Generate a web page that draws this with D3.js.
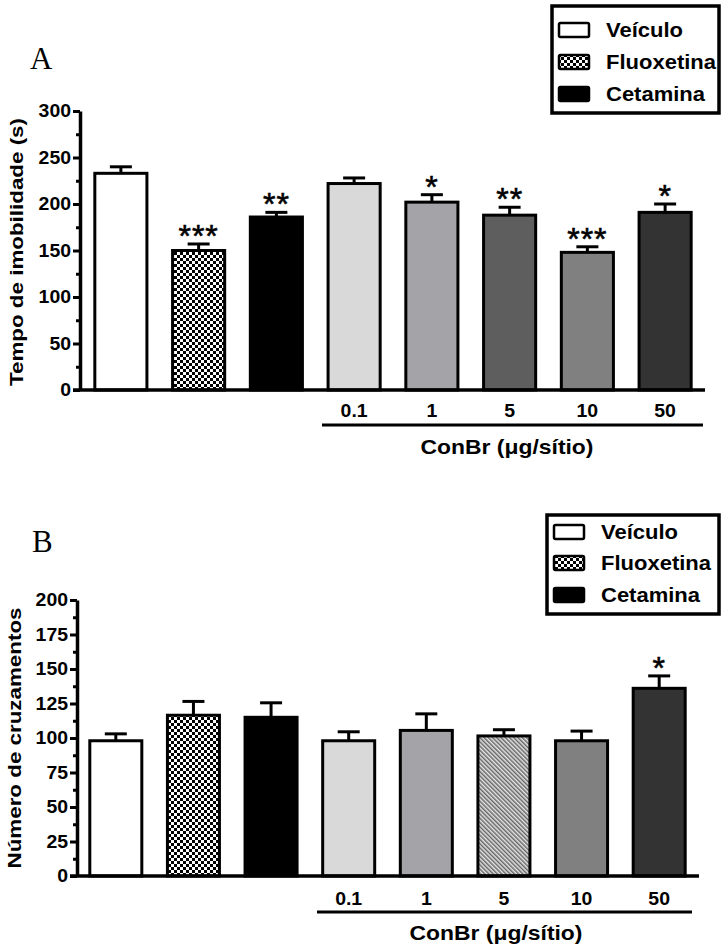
<!DOCTYPE html>
<html>
<head>
<meta charset="utf-8">
<script src="https://cdn.jsdelivr.net/npm/d3@7"></script>
<style>
  body { margin: 0; background: #fff; }
  text { font-family: "Liberation Sans", Arial, sans-serif; font-weight: bold; fill: #000; }
</style>
</head>
<body>
<div id="chart"></div>
<script>
// groups on the x axis (first three are controls, rest are ConBr doses)
const groups = ["Veículo", "Fluoxetina", "Cetamina", "0.1", "1", "5", "10", "50"];
const doseLabels = ["", "", "", "0.1", "1", "5", "10", "50"];
const legendItems = ["Veículo", "Fluoxetina", "Cetamina"];

// panel A - tempo de imobilidade
const immobilityMean = [233, 150, 186, 222, 202, 188, 148, 191];
const immobilityErr = [7, 7, 5, 6, 8, 8.5, 6, 9];
const immobilitySig = ["", "***", "**", "", "*", "**", "***", "*"];
const immobilityTicks = [0, 50, 100, 150, 200, 250, 300];

// panel B - numero de cruzamentos
const crossingMean = [98, 116.5, 115, 98, 105.5, 101.5, 98, 136];
const crossingErr = [5, 10, 10.5, 6.5, 12, 4.5, 7, 9];
const crossingSig = ["", "", "", "", "", "", "", "*"];
const crossingTicks = [0, 25, 50, 75, 100, 125, 150, 175, 200];

const svg = d3.select("#chart")
    .append("svg")
    .attr("width", 722)
    .attr("height", 946);

// patterns
const defs = svg.append("defs");
const checker = defs.append("pattern")
    .attr("id", "checker")
    .attr("patternUnits", "userSpaceOnUse")
    .attr("width", 6).attr("height", 6);
checker.append("rect").attr("width", 6).attr("height", 6).attr("fill", "#fff");
checker.append("rect").attr("width", 3).attr("height", 3).attr("fill", "#000");
checker.append("rect").attr("x", 3).attr("y", 3).attr("width", 3).attr("height", 3).attr("fill", "#000");

const hatch = defs.append("pattern")
    .attr("id", "hatch")
    .attr("patternUnits", "userSpaceOnUse")
    .attr("width", 3).attr("height", 3)
    .attr("patternTransform", "rotate(-45)");
hatch.append("rect").attr("width", 3).attr("height", 3).attr("fill", "#e6e6e6");
hatch.append("line").attr("x1", 0.75).attr("y1", 0).attr("x2", 0.75).attr("y2", 3)
    .attr("stroke", "#666").attr("stroke-width", 1.5);

const fillsA = ["#ffffff", "url(#checker)", "#000000", "#d9d9d9", "#a3a3a8", "#5e5e5e", "#808080", "#333333"];
const fillsB = ["#ffffff", "url(#checker)", "#000000", "#d9d9d9", "#a3a3a8", "url(#hatch)", "#808080", "#333333"];

// horizontally stretch text like the original export
function stretch(sel, k) {
    sel.each(function() {
        const w = this.getComputedTextLength();
        d3.select(this).attr("textLength", w * k).attr("lengthAdjust", "spacingAndGlyphs");
    });
}

function drawPanel(p) {
    const g = svg.append("g");
    const x = d3.scaleBand().domain(groups).range(p.xRange).paddingInner(0.33).paddingOuter(0.165);
    const y = d3.scaleLinear().domain([0, p.yMax]).range([p.y0, p.y1]);
    const color = d3.scaleOrdinal().domain(groups).range(p.fills);
    const rows = groups.map((k, i) => ({key: k, mean: p.mean[i], err: p.err[i], sig: p.sig[i], dose: doseLabels[i]}));

    // panel letter
    g.append("text")
        .attr("x", p.letterX).attr("y", p.letterY)
        .style("font-family", "'Liberation Serif', 'Times New Roman', serif")
        .style("font-weight", "normal")
        .style("font-size", "31px")
        .text(p.letter);

    // error bars (upper only)
    rows.forEach(d => {
        const cx = x(d.key) + x.bandwidth() / 2;
        g.append("line")
            .attr("x1", cx).attr("x2", cx)
            .attr("y1", y(d.mean)).attr("y2", y(d.mean + d.err))
            .attr("stroke", "#000").attr("stroke-width", 3);
        g.append("line")
            .attr("x1", cx - 11).attr("x2", cx + 11)
            .attr("y1", y(d.mean + d.err)).attr("y2", y(d.mean + d.err))
            .attr("stroke", "#000").attr("stroke-width", 3);
        if (d.sig) {
            g.append("text")
                .attr("x", cx).attr("y", y(d.mean + d.err) + 3)
                .attr("text-anchor", "middle")
                .style("font-size", "32px")
                .style("font-weight", "normal")
                .style("letter-spacing", "1px")
                .attr("stroke", "#000").attr("stroke-width", 0.6)
                .text(d.sig);
        }
    });

    // bars
    g.selectAll(".bar")
        .data(rows)
        .enter()
        .append("rect")
        .attr("x", d => x(d.key))
        .attr("y", d => y(d.mean))
        .attr("width", x.bandwidth())
        .attr("height", d => y(0) - y(d.mean))
        .attr("fill", d => color(d.key))
        .attr("stroke", "#000")
        .attr("stroke-width", 3);

    // y axis: major + minor ticks
    const minor = d3.range(p.minorStep, p.yMax, p.minorStep * 2);
    g.append("g")
        .attr("transform", `translate(${p.axisX},0)`)
        .call(d3.axisLeft(y).tickValues(minor).tickSize(4).tickFormat(""))
        .call(a => a.select(".domain").remove())
        .call(a => a.selectAll("line").attr("stroke-width", 3));
    const yAxis = g.append("g")
        .attr("transform", `translate(${p.axisX},0)`)
        .call(d3.axisLeft(y).tickValues(p.ticks).tickSize(7).tickSizeOuter(0).tickPadding(2));
    yAxis.select(".domain").attr("stroke-width", 3.5);
    yAxis.selectAll(".tick line").attr("stroke-width", 3);
    yAxis.selectAll(".tick text")
        .style("font-family", "'Liberation Sans', Arial, sans-serif")
        .style("font-weight", "bold")
        .style("font-size", "18px")
        .attr("fill", "#000")
        .call(stretch, 1.08);

    // x axis baseline
    g.append("line")
        .attr("x1", p.axisX - 7).attr("x2", p.xRange[1] + 1)
        .attr("y1", y(0)).attr("y2", y(0))
        .attr("stroke", "#000").attr("stroke-width", 3.5);

    // dose labels
    g.selectAll(".dose")
        .data(rows.filter(d => d.dose))
        .enter()
        .append("text")
        .attr("x", d => x(d.key) + x.bandwidth() / 2)
        .attr("y", p.doseY)
        .attr("text-anchor", "middle")
        .style("font-size", "18px")
        .text(d => d.dose)
        .call(stretch, 1.08);

    g.append("line")
        .attr("x1", p.underline[0]).attr("x2", p.underline[1])
        .attr("y1", p.underlineY).attr("y2", p.underlineY)
        .attr("stroke", "#000").attr("stroke-width", 3);

    g.append("text")
        .attr("x", p.conbrX).attr("y", p.conbrY)
        .attr("text-anchor", "middle")
        .style("font-size", "21px")
        .attr("textLength", 173).attr("lengthAdjust", "spacingAndGlyphs")
        .text("ConBr (μg/sítio)");

    // y label
    g.append("text")
        .attr("transform", `translate(${p.yLabelX},${p.yLabelY}) rotate(-90)`)
        .attr("text-anchor", "middle")
        .style("font-size", "19px")
        .attr("textLength", p.yLabelLen).attr("lengthAdjust", "spacingAndGlyphs")
        .text(p.yLabel);

    // legend
    const L = p.legend;
    g.append("rect")
        .attr("x", L.x).attr("y", L.y).attr("width", L.w).attr("height", L.h)
        .attr("fill", "#fff").attr("stroke", "#000").attr("stroke-width", 3.5);
    legendItems.forEach((name, i) => {
        const cy = L.rows[i];
        g.append("rect")
            .attr("x", L.x + 7).attr("y", cy - 7)
            .attr("width", 30).attr("height", 14)
            .attr("rx", 1.5)
            .attr("fill", color(name))
            .attr("stroke", "#000").attr("stroke-width", 2.5);
        g.append("text")
            .attr("x", L.x + 54).attr("y", cy + 7)
            .style("font-size", "20px")
            .text(name)
            .call(stretch, 1.1);
    });
}

drawPanel({
    letter: "A", letterX: 30, letterY: 69,
    mean: immobilityMean, err: immobilityErr, sig: immobilitySig,
    ticks: immobilityTicks, yMax: 300, minorStep: 25,
    y0: 390, y1: 111, axisX: 80, xRange: [82, 704],
    fills: fillsA,
    doseY: 417, underline: [322, 703], underlineY: 425,
    conbrX: 507, conbrY: 454,
    yLabel: "Tempo de imobilidade (s)", yLabelX: 23, yLabelY: 252, yLabelLen: 268,
    legend: {x: 552, y: 6, w: 167, h: 107, rows: [30, 62, 94]}
});

drawPanel({
    letter: "B", letterX: 32, letterY: 552,
    mean: crossingMean, err: crossingErr, sig: crossingSig,
    ticks: crossingTicks, yMax: 200, minorStep: 12.5,
    y0: 876, y1: 600, axisX: 77, xRange: [77, 698],
    fills: fillsB,
    doseY: 905, underline: [317, 692], underlineY: 912,
    conbrX: 496, conbrY: 940,
    yLabel: "Número de cruzamentos", yLabelX: 21, yLabelY: 738, yLabelLen: 261,
    legend: {x: 547, y: 515, w: 172, h: 99, rows: [532, 563, 595]}
});
</script>
</body>
</html>
